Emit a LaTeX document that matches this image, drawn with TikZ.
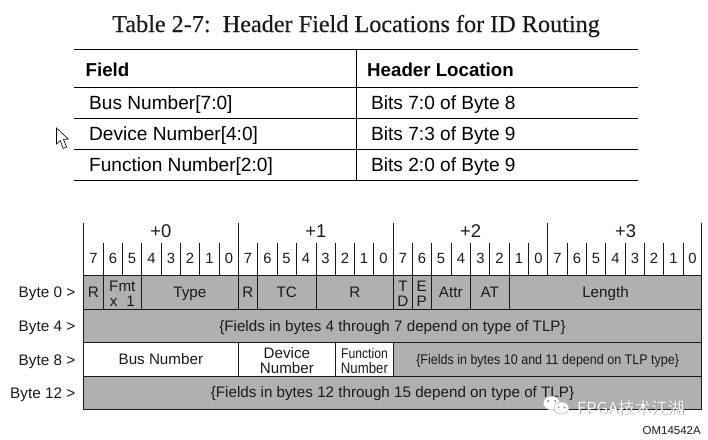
\documentclass[tikz,border=0pt]{standalone}
\usepackage{fontspec}
\usepackage{graphicx}
\setmainfont{Liberation Sans}
\newfontfamily\titlefont[FakeBold=0.25]{Liberation Serif}
\newfontfamily\cjkfont{Noto Sans CJK SC}
\definecolor{cellgray}{HTML}{B0B0B0}
\definecolor{inkdark}{HTML}{1A1A1A}
\newcommand{\fsz}[2]{\fontsize{#1}{#2}\selectfont}
\newcommand{\lblshift}{-1.6pt}
\newcommand{\one}[1]{\vphantom{Ap}#1}
\newcommand{\cell}[7]{% name, x1, x2, y1, y2, style, text
  \pgfmathsetmacro{\cw}{#3-(#2)}\pgfmathsetmacro{\ch}{#5-(#4)}
  \node[#6,minimum width=\cw pt,minimum height=\ch pt] (#1) at ({(#2+#3)/2},{(#4+#5)/2}) {};
  \node[celltext] (#1text) at ([yshift=\lblshift]#1.center) {#7};}
\tikzset{
  x=1pt,y=-1pt,
  rule/.style={line width=0.9pt,black},
  gridline/.style={line width=0.8pt,inkdark},
  graycell/.style={draw=inkdark,line width=0.8pt,fill=cellgray,inner sep=0pt,outer sep=0pt},
  whitecell/.style={graycell,fill=white},
  celltext/.style={inner sep=0pt,text=inkdark,align=center,font=\fsz{15.2}{15.2}},
  bytelabel/.style={anchor=east,inner sep=0pt,text=inkdark,font=\fsz{15.3}{16}},
  bitnum/.style={anchor=base,inner sep=0pt,text=inkdark,font=\fsz{14.8}{16}},
  lanehead/.style={inner sep=0pt,text=inkdark,font=\fsz{18.4}{20}},
  tablehead/.style={anchor=base west,inner sep=0pt,font=\fsz{18.7}{20}\bfseries},
  tablebody/.style={anchor=base west,inner sep=0pt,font=\fsz{19.1}{20}},
  markwhite/.style={text=white,inner sep=0pt},
  markshade/.style={text=black!55,inner sep=0pt}
}
\begin{document}
\begin{tikzpicture}
\useasboundingbox (0,0) rectangle (708,439);
\fill[white] (0,0) rectangle (708,439);
% title
\node[anchor=base,inner sep=0pt,text=inkdark,font=\titlefont\fsz{24.2}{26}] (title) at (356,32) {Table 2-7:\ \ Header Field Locations for ID Routing};
% table
\foreach \yy/\nn in {49.5/a,87.5/b,118/c,149.3/d,180.5/e}{
  \coordinate (tl\nn) at (74,\yy); \coordinate (tr\nn) at (638,\yy);
  \draw[rule] (tl\nn) -- (tr\nn);}
\coordinate (tvt) at (356.7,49.5); \coordinate (tvb) at (356.7,181);
\draw[rule] (tvt) -- (tvb);
\node[tablehead] (hf) at (85.5,76.5) {Field};
\node[tablehead] (hl) at (367,76.5) {Header Location};
\node[tablebody] (f1) at (89,109.5) {Bus Number[7:0]};
\node[tablebody] (l1) at (371,109.5) {Bits 7:0 of Byte 8};
\node[tablebody] (f2) at (89,140.5) {Device Number[4:0]};
\node[tablebody] (l2) at (371,140.5) {Bits 7:3 of Byte 9};
\node[tablebody] (f3) at (89,171.5) {Function Number[2:0]};
\node[tablebody] (l3) at (371,171.5) {Bits 2:0 of Byte 9};
% cursor
\draw[line width=0.6pt,black,fill=white,line join=miter] (56.5,128) -- (56.5,144) -- (60.3,140.5) -- (63.2,148.5) -- (66.6,147) -- (63.5,139.5) -- (68.2,139) -- cycle;
% lane ticks
\foreach \i/\xx in {0/83.3,1/238.4,2/393.6,3/547.5,4/701.7}{
  \coordinate (lt\i) at (\xx,223); \coordinate (lb\i) at (\xx,275.4);
  \draw[gridline] (lt\i) -- (lb\i);}
% bit ticks
\foreach \xx in {103.3,122.3,141.3,161.7,180.3,199.3,219.3,
                 257.3,277.3,296.3,316,335.3,354.3,373.3,
                 412.3,431.3,451.3,470.3,489.3,509.3,528.3,
                 567.3,586.3,605.3,625.3,644.3,663.3,683.3}{
  \draw[gridline] (\xx,243) -- (\xx,275.4);}
% lane headings
\node[lanehead] (p0) at (160.8,231) {+0};
\node[lanehead] (p1) at (315.8,231) {+1};
\node[lanehead] (p2) at (470.5,231) {+2};
\node[lanehead] (p3) at (625.5,231) {+3};
% bit numbers
\foreach \xx/\b [count=\n] in {93.5/7,113/6,132/5,151.5/4,171/3,190/2,209.5/1,229/0,
  248/7,267.5/6,286.5/5,306/4,325.5/3,345/2,364/1,383.5/0,
  403/7,422/6,441/5,461/4,480.5/3,499.5/2,519/1,538.5/0,
  557.5/7,577/6,596/5,615.5/4,635/3,654/2,673.5/1,692.5/0}{
  \node[bitnum] (bit\n) at (\xx,263.7) {\b};}
% byte labels
\node[bytelabel] (b0) at (75.5,294) {Byte 0 >};
\node[bytelabel] (b4) at (75.5,328) {Byte 4 >};
\node[bytelabel] (b8) at (75.5,362) {Byte 8 >};
\node[bytelabel] (b12) at (75.5,395) {Byte 12 >};
% row 0
\cell{c1}{83.3}{103.3}{275.4}{309.3}{graycell}{\one{R}}
\cell{c2}{103.3}{141.3}{275.4}{309.3}{graycell}{Fmt\\x\hspace{9pt}1}
\cell{c3}{141.3}{238.4}{275.4}{309.3}{graycell}{\one{Type}}
\cell{c4}{238.4}{257.3}{275.4}{309.3}{graycell}{\one{R}}
\cell{c5}{257.3}{316}{275.4}{309.3}{graycell}{\one{TC}}
\cell{c6}{316}{393.6}{275.4}{309.3}{graycell}{\one{R}}
\cell{c7}{393.6}{412.3}{275.4}{309.3}{graycell}{T\\D}
\cell{c8}{412.3}{431.3}{275.4}{309.3}{graycell}{E\\P}
\cell{c9}{431.3}{470.3}{275.4}{309.3}{graycell}{\one{Attr}}
\cell{c10}{470.3}{509.3}{275.4}{309.3}{graycell}{\one{AT}}
\cell{c11}{509.3}{701.7}{275.4}{309.3}{graycell}{\one{Length}}
% row 4
\cell{r4}{83.3}{701.7}{309.3}{342.3}{graycell}{\one{\{Fields in bytes 4 through 7 depend on type of TLP\}}}
% row 8
\cell{bus}{83.3}{238.4}{342.3}{376.3}{whitecell}{\one{Bus Number}}
\cell{dev}{238.4}{335.3}{342.3}{376.3}{whitecell}{Device\\Number}
\cell{fun}{335.3}{393.6}{342.3}{376.3}{whitecell}{\fsz{14}{15}\scalebox{0.87}[1]{Function}\\\scalebox{0.87}[1]{Number}}
\cell{r10}{393.6}{701.7}{342.3}{376.3}{graycell}{\fsz{14}{15}\scalebox{0.894}[1]{\{Fields in bytes 10 and 11 depend on TLP type\}}}
% row 12
\renewcommand{\lblshift}{-0.6pt}
\cell{r12}{83.3}{701.7}{376.3}{409.3}{graycell}{\one{\{Fields in bytes 12 through 15 depend on type of TLP\}}}
% figure id
\node[anchor=east,inner sep=0pt,text=inkdark,font=\fsz{11.5}{12}] (om) at (701,431) {OM14542A};
% watermark
\filldraw[white,draw=black!35,line width=0.4pt] (551.5,403) ellipse (8.5pt and 7pt);
\filldraw[white,draw=black!35,line width=0.4pt] (561.5,408) ellipse (7.5pt and 6pt);
\fill[black!55] (548,401) circle (1pt) (555,401) circle (1pt) (558.5,407.5) circle (0.8pt) (564.5,407.5) circle (0.8pt);
\node[markshade,anchor=west,font=\cjkfont\fsz{16.6}{17}] (wmshade) at (577.5,408.6) {FPGA技术江湖};
\node[markwhite,anchor=west,font=\cjkfont\fsz{16.6}{17}] (wm) at (577,408) {FPGA技术江湖};
\end{tikzpicture}
\end{document}
